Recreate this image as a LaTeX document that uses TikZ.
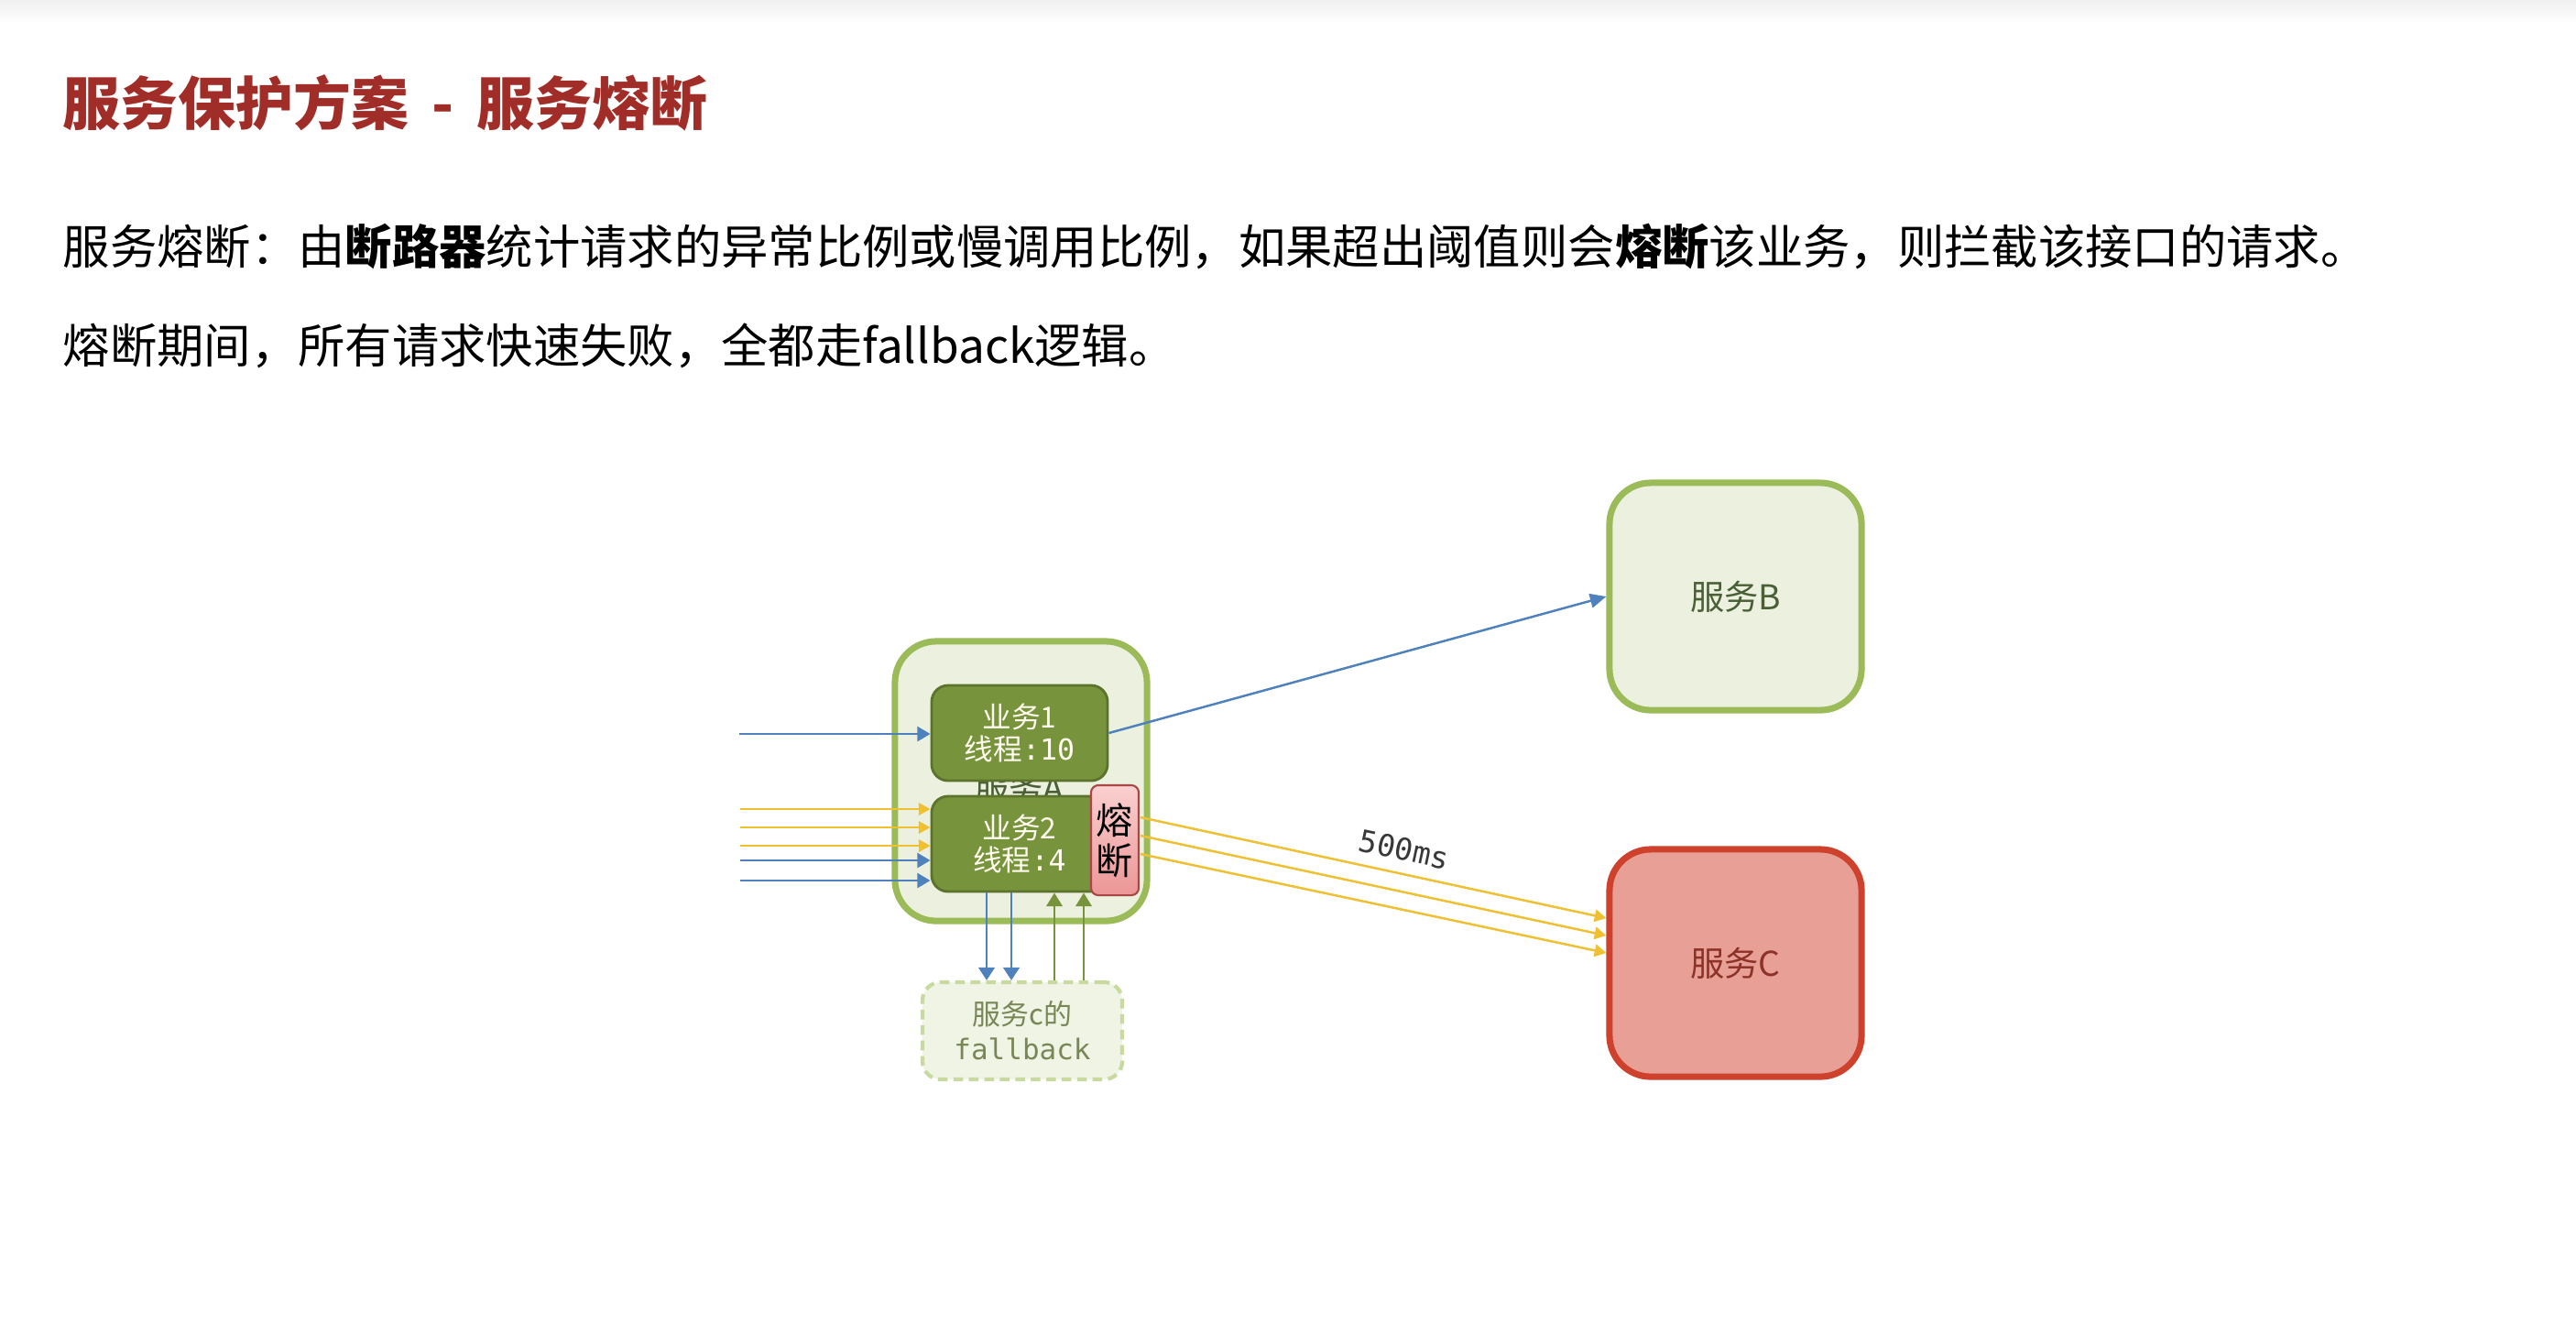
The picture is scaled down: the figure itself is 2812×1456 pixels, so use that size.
\documentclass[tikz,border=0pt]{standalone}
\usepackage{fontspec}
\setmainfont{Noto Sans CJK SC}
\newfontfamily\mono{DejaVu Sans Mono}
\usetikzlibrary{arrows.meta,calc}

\definecolor{titlered}{RGB}{160,45,40}
\definecolor{agreen}{RGB}{155,187,89}
\definecolor{afill}{RGB}{235,241,222}
\definecolor{bizfill}{RGB}{119,147,60}
\definecolor{bizdraw}{RGB}{92,115,45}
\definecolor{flow}{RGB}{79,129,189}
\definecolor{yel}{RGB}{238,192,50}
\definecolor{fusetop}{RGB}{250,208,208}
\definecolor{fusebot}{RGB}{236,150,150}
\definecolor{fusedraw}{RGB}{170,70,70}
\definecolor{fbdraw}{RGB}{200,218,160}
\definecolor{fbfill}{RGB}{239,244,229}
\definecolor{fbtext}{RGB}{120,135,85}
\definecolor{cfill}{RGB}{232,160,150}
\definecolor{cdraw}{RGB}{205,65,45}
\definecolor{ctext}{RGB}{140,50,40}
\definecolor{btext}{RGB}{75,95,55}
\definecolor{garr}{RGB}{119,147,60}

\tikzset{
  svcbox/.style={rounded corners=0.45cm, line width=2pt, minimum width=2.75cm, minimum height=2.48cm, inner sep=0pt,
    font=\fontsize{10.6pt}{12pt}\selectfont},
  bizbox/.style={draw=bizdraw, fill=bizfill, line width=0.8pt, rounded corners=0.18cm,
    minimum width=1.92cm, minimum height=1.04cm, text=white!94!yellow, align=center,
    font=\fontsize{9pt}{10pt}\selectfont, inner sep=0pt},
  bluearr/.style={draw=flow, line width=0.8pt, -{Triangle[length=4pt,width=4.5pt]}},
  yelarr/.style={draw=yel, line width=0.7pt, -{Triangle[length=3.6pt,width=3.8pt]}},
  greenarr/.style={draw=garr, line width=0.7pt, -{Triangle[length=4.2pt,width=5pt]}},
  bodytext/.style={anchor=west, inner sep=0pt, font=\fontsize{14.6pt}{18pt}\selectfont}
}

\begin{document}
\begin{tikzpicture}[x=0.01cm, y=-0.01cm]
\useasboundingbox (0,0) rectangle (2812,1456);
\fill[white] (0,0) rectangle (2812,1456);
\fill[top color=gray!12, bottom color=white] (0,0) rectangle (2812,26);

% title and text
\node[anchor=west, inner sep=0pt, text=titlered, font=\fontsize{17.9pt}{20pt}\selectfont\bfseries] (title) at (68,112)
  {服务保护方案 \,-\, 服务熔断};
\node[bodytext] (line1) at (68,269)
  {服务熔断：由\textbf{断路器}统计请求的异常比例或慢调用比例，如果超出阈值则会\textbf{熔断}该业务，则拦截该接口的请求。};
\node[bodytext] (line2) at (68,377)
  {熔断期间，所有请求快速失败，全都走fallback逻辑。};

% service A
\node[svcbox, draw=agreen, fill=afill, minimum height=3.05cm] (A) at (1114.5,852.5) {};
\node[inner sep=0pt, text=btext, font=\fontsize{10.6pt}{12pt}\selectfont] (Alabel) at (1113,860) {服务A};
\node[bizbox] (b1) at (1113,800) {业务1\\线程{\mono :10}};
\node[bizbox] (b2) at (1113,921) {业务2\\线程{\mono :4}};
\node[draw=fusedraw, top color=fusetop, bottom color=fusebot, rounded corners=0.08cm, line width=0.6pt,
  minimum width=0.52cm, minimum height=1.2cm, inner sep=0pt, align=center,
  font=\fontsize{11.4pt}{12.5pt}\selectfont] (fuse) at (1217,917) {熔\\断};

% fallback
\node[draw=fbdraw, fill=fbfill, dashed, dash pattern=on 3pt off 1.8pt, line width=1.2pt, rounded corners=0.2cm,
  minimum width=2.18cm, minimum height=1.06cm, inner sep=0pt, align=center, text=fbtext,
  font=\fontsize{8.8pt}{10.8pt}\selectfont] (fb) at (1116,1125) {服务c的\\{\mono fallback}};

% services B and C
\node[svcbox, draw=agreen, fill=afill, text=btext] (B) at (1894.5,651) {服务B};
\node[svcbox, draw=cdraw, fill=cfill, text=ctext] (C) at (1894.5,1051) {服务C};

% incoming requests
\coordinate (in1) at (807,801);
\coordinate (in2) at (808,883);
\coordinate (in3) at (808,903);
\coordinate (in4) at (808,923);
\coordinate (in5) at (808,939);
\coordinate (in6) at (808,961);
\draw[bluearr] (in1) -- (in1 -| b1.west);
\draw[yelarr] (in2) -- (in2 -| b2.west);
\draw[yelarr] (in3) -- (in3 -| b2.west);
\draw[yelarr] (in4) -- (in4 -| b2.west);
\draw[bluearr] (in5) -- (in5 -| b2.west);
\draw[bluearr] (in6) -- (in6 -| b2.west);

% to fallback and back
\draw[bluearr, -{Triangle[length=4pt,width=5pt]}] (b2.south -| 1077,0) -- (fb.north -| 1077,0);
\draw[bluearr, -{Triangle[length=4pt,width=5pt]}] (b2.south -| 1104,0) -- (fb.north -| 1104,0);
\draw[greenarr] (fb.north -| 1151,0) -- (b2.south -| 1151,0);
\draw[greenarr] (fb.north -| 1183,0) -- (b2.south -| 1183,0);

% to service B
\draw[bluearr, line width=0.7pt, -{Triangle[length=5pt,width=4.4pt]}] (b1.east) -- (B.west);

% to service C
\draw[yelarr] ($(fuse.east)+(1,-25)$) -- ($(C.west)+(0,-49)$);
\draw[yelarr] ($(fuse.east)+(1,-5)$) -- ($(C.west)+(0,-30)$);
\draw[yelarr] ($(fuse.east)+(1,15)$) -- ($(C.west)+(0,-11)$);
\node[rotate=-12, inner sep=0pt, text=black!78, font=\mono\fontsize{9.4pt}{11pt}\selectfont] (lat) at (1533,927) {500ms};
\end{tikzpicture}
\end{document}
